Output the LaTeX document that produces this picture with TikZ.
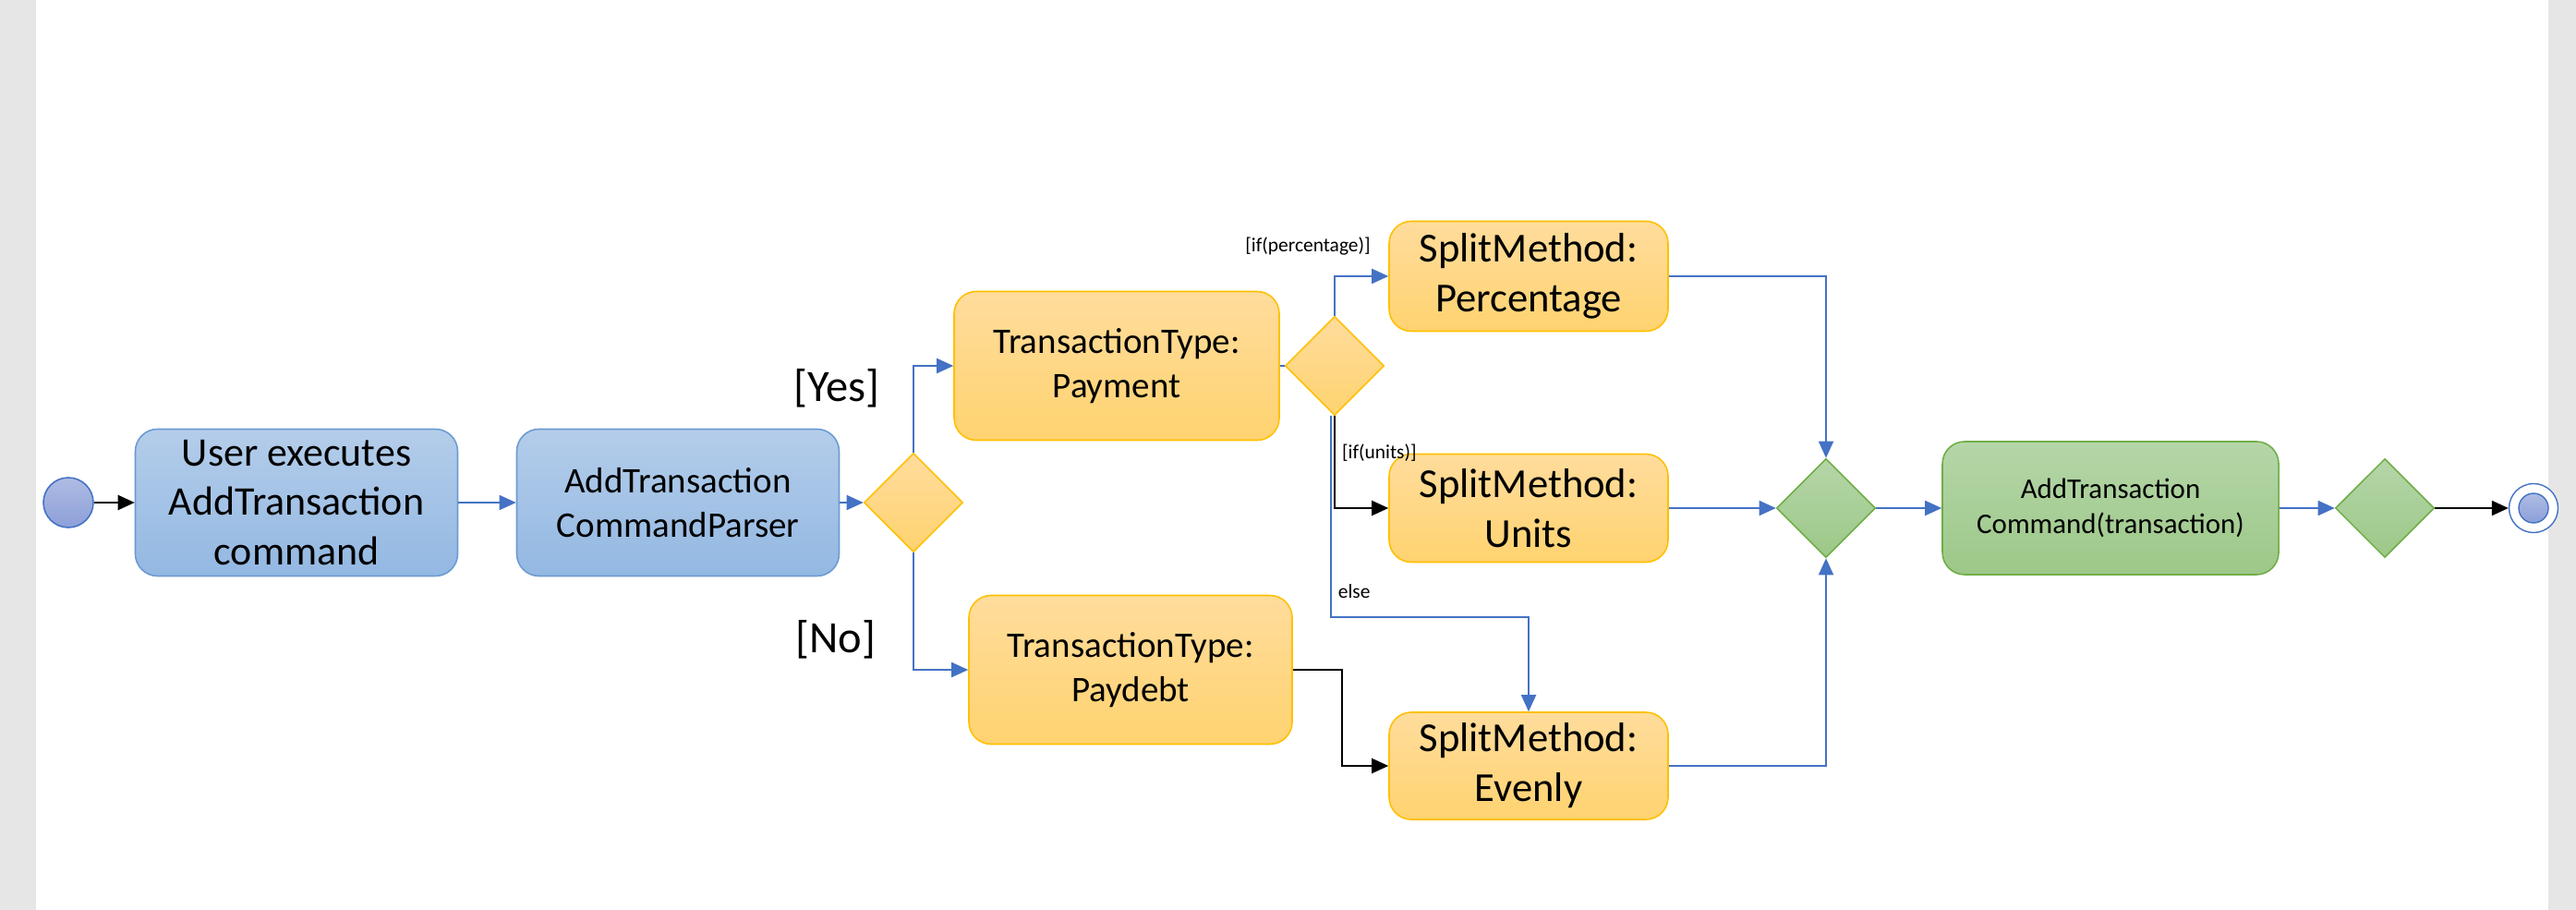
\documentclass[tikz,border=0pt]{standalone}
\usepackage{fontspec}
\setmainfont{Carlito}
\usetikzlibrary{shapes.geometric}
\usetikzlibrary{positioning}
\usetikzlibrary{arrows.meta}
\definecolor{pagegray}{HTML}{E6E6E6}
\definecolor{flowblue}{HTML}{4472C4}
\definecolor{blueline}{HTML}{6C9BD2}
\definecolor{bluetop}{HTML}{B4CDEA}
\definecolor{bluebot}{HTML}{93B8E2}
\definecolor{orangeline}{HTML}{FFC000}
\definecolor{orangetop}{HTML}{FFDC9C}
\definecolor{orangebot}{HTML}{FFD370}
\definecolor{greenline}{HTML}{70AD47}
\definecolor{greentop}{HTML}{B5D6A8}
\definecolor{greenbot}{HTML}{9CC888}
\definecolor{dotblue}{HTML}{8C9FD8}
\tikzset{node distance=2.5cm, % Default distance between two node centres
every node/.style={inner sep=0pt},
action/.style={ % Rounded activity boxes
rectangle,
rounded corners=0.24cm,
line width=0.45pt,
align=center},
bluebox/.style={action, draw=blueline, top color=bluetop, bottom color=bluebot,
minimum width=3.49cm, minimum height=1.59cm},
orangebox/.style={action, draw=orangeline, top color=orangetop, bottom color=orangebot},
greenbox/.style={action, draw=greenline, top color=greentop, bottom color=greenbot,
minimum width=3.64cm, minimum height=1.44cm},
decision/.style={ % Branch and merge points
diamond,
line width=0.45pt,
minimum width=1.07cm,
minimum height=1.07cm},
orangedec/.style={decision, draw=orangeline, top color=orangetop, bottom color=orangebot},
greendec/.style={decision, draw=greenline, top color=greentop, bottom color=greenbot},
guard/.style={font=\fontsize{6.1}{7}\selectfont},
branch/.style={font=\fontsize{13.8}{16}\selectfont},
>={Triangle[length=1.8mm,width=1.6mm]},
flow/.style={ % Blue control flow
draw=flowblue,
line width=0.5pt},
plain/.style={ % Black control flow
draw=black,
line width=0.6pt}}

\begin{document}
\begin{tikzpicture}
\fill[pagegray] (0,0) rectangle (0.39,-9.85);
\fill[pagegray] (27.59,0) rectangle (27.89,-9.85);
\useasboundingbox (0,0) rectangle (27.89,-9.85);

\node[circle, draw=flowblue, line width=0.45pt, top color=dotblue!70, bottom color=dotblue,
minimum size=0.54cm] (start) at (0.74,-5.44) {};
\node[bluebox, right of=start, node distance=2.47cm,
font=\fontsize{12.5}{15.1}\selectfont] (user) {User executes\\AddTransaction\\command};
\node[bluebox, right of=user, node distance=4.13cm,
font=\fontsize{11.1}{13.7}\selectfont] (parser) {AddTransaction\\CommandParser};
\node[orangedec, right of=parser, node distance=2.55cm] (d1) {};

\node[orangebox, above of=d1, node distance=1.48cm, xshift=2.2cm,
minimum width=3.52cm, minimum height=1.61cm,
font=\fontsize{11.1}{13.7}\selectfont] (pay) {TransactionType:\\Payment};
\node[orangebox, below of=d1, node distance=1.81cm, xshift=2.35cm,
minimum width=3.5cm, minimum height=1.61cm,
font=\fontsize{11.1}{13.7}\selectfont] (debt) {TransactionType:\\Paydebt};
\node[orangedec, right of=pay, node distance=2.36cm] (d2) {};

\node[orangebox, above of=d2, node distance=0.97cm, xshift=2.1cm,
minimum width=3.02cm, minimum height=1.19cm,
font=\fontsize{12.7}{15.4}\selectfont] (pct) {SplitMethod:\\Percentage};
\node[orangebox, below of=d2, node distance=1.54cm, xshift=2.1cm,
minimum width=3.02cm, minimum height=1.17cm,
font=\fontsize{12.7}{15.4}\selectfont] (units) {SplitMethod:\\Units};
\node[orangebox, below of=units, node distance=2.79cm,
minimum width=3.02cm, minimum height=1.16cm,
font=\fontsize{12.7}{15.4}\selectfont] (even) {SplitMethod:\\Evenly};

\node[greendec, right of=units, node distance=3.22cm] (d3) {};
\node[greenbox, right of=d3, node distance=3.08cm,
font=\fontsize{8.8}{10.8}\selectfont] (cmd) {AddTransaction\\Command(transaction)};
\node[greendec, right of=cmd, node distance=2.97cm] (d4) {};
\node[circle, draw=flowblue, line width=0.4pt, fill=white, minimum size=0.53cm,
right of=d4, node distance=1.61cm] (stop) {};
\node[circle, draw=flowblue, line width=0.4pt, top color=dotblue!70, bottom color=dotblue,
minimum size=0.32cm] (stopdot) at (stop) {};

\node[branch] (yes) at (9.06,-4.2) {[Yes]};
\node[branch] (no) at (9.05,-6.92) {[No]};

\draw[plain, ->] (start) -- (user);
\draw[flow, ->] (user) -- (parser);
\draw[flow, ->] (parser) -- (d1);
\draw[flow, ->] (d1.north) |- (pay.west);
\draw[flow, ->] (d1.south) |- (debt.west);

\draw[flow] (pay.east) -- (d2.west);
\draw[flow, ->] (d2.north) |- (pct.west)
node[guard, pos=0.5, xshift=-0.29cm, yshift=0.32cm] {[if(percentage)]};
\draw[plain, ->] (d2.south) |- (units.west)
node[guard, pos=0.2, anchor=west, xshift=0.07cm] {[if(units)]};
\draw[flow, ->] ([xshift=-0.04cm]d2.south) -- ++(0,-2.18)
node[guard, pos=0.87, anchor=west, xshift=0.07cm] {else} -| (even.north);
\draw[plain, ->] (debt.east) -- ++(0.53,0) |- (even.west);

\draw[flow, ->] (pct.east) -| (d3.north);
\draw[flow, ->] (units.east) -- (d3.west);
\draw[flow, ->] (even.east) -| (d3.south);
\draw[flow, ->] (d3) -- (cmd);
\draw[flow, ->] (cmd) -- (d4);
\draw[plain, ->] (d4) -- (stop);
\end{tikzpicture}
\end{document}
